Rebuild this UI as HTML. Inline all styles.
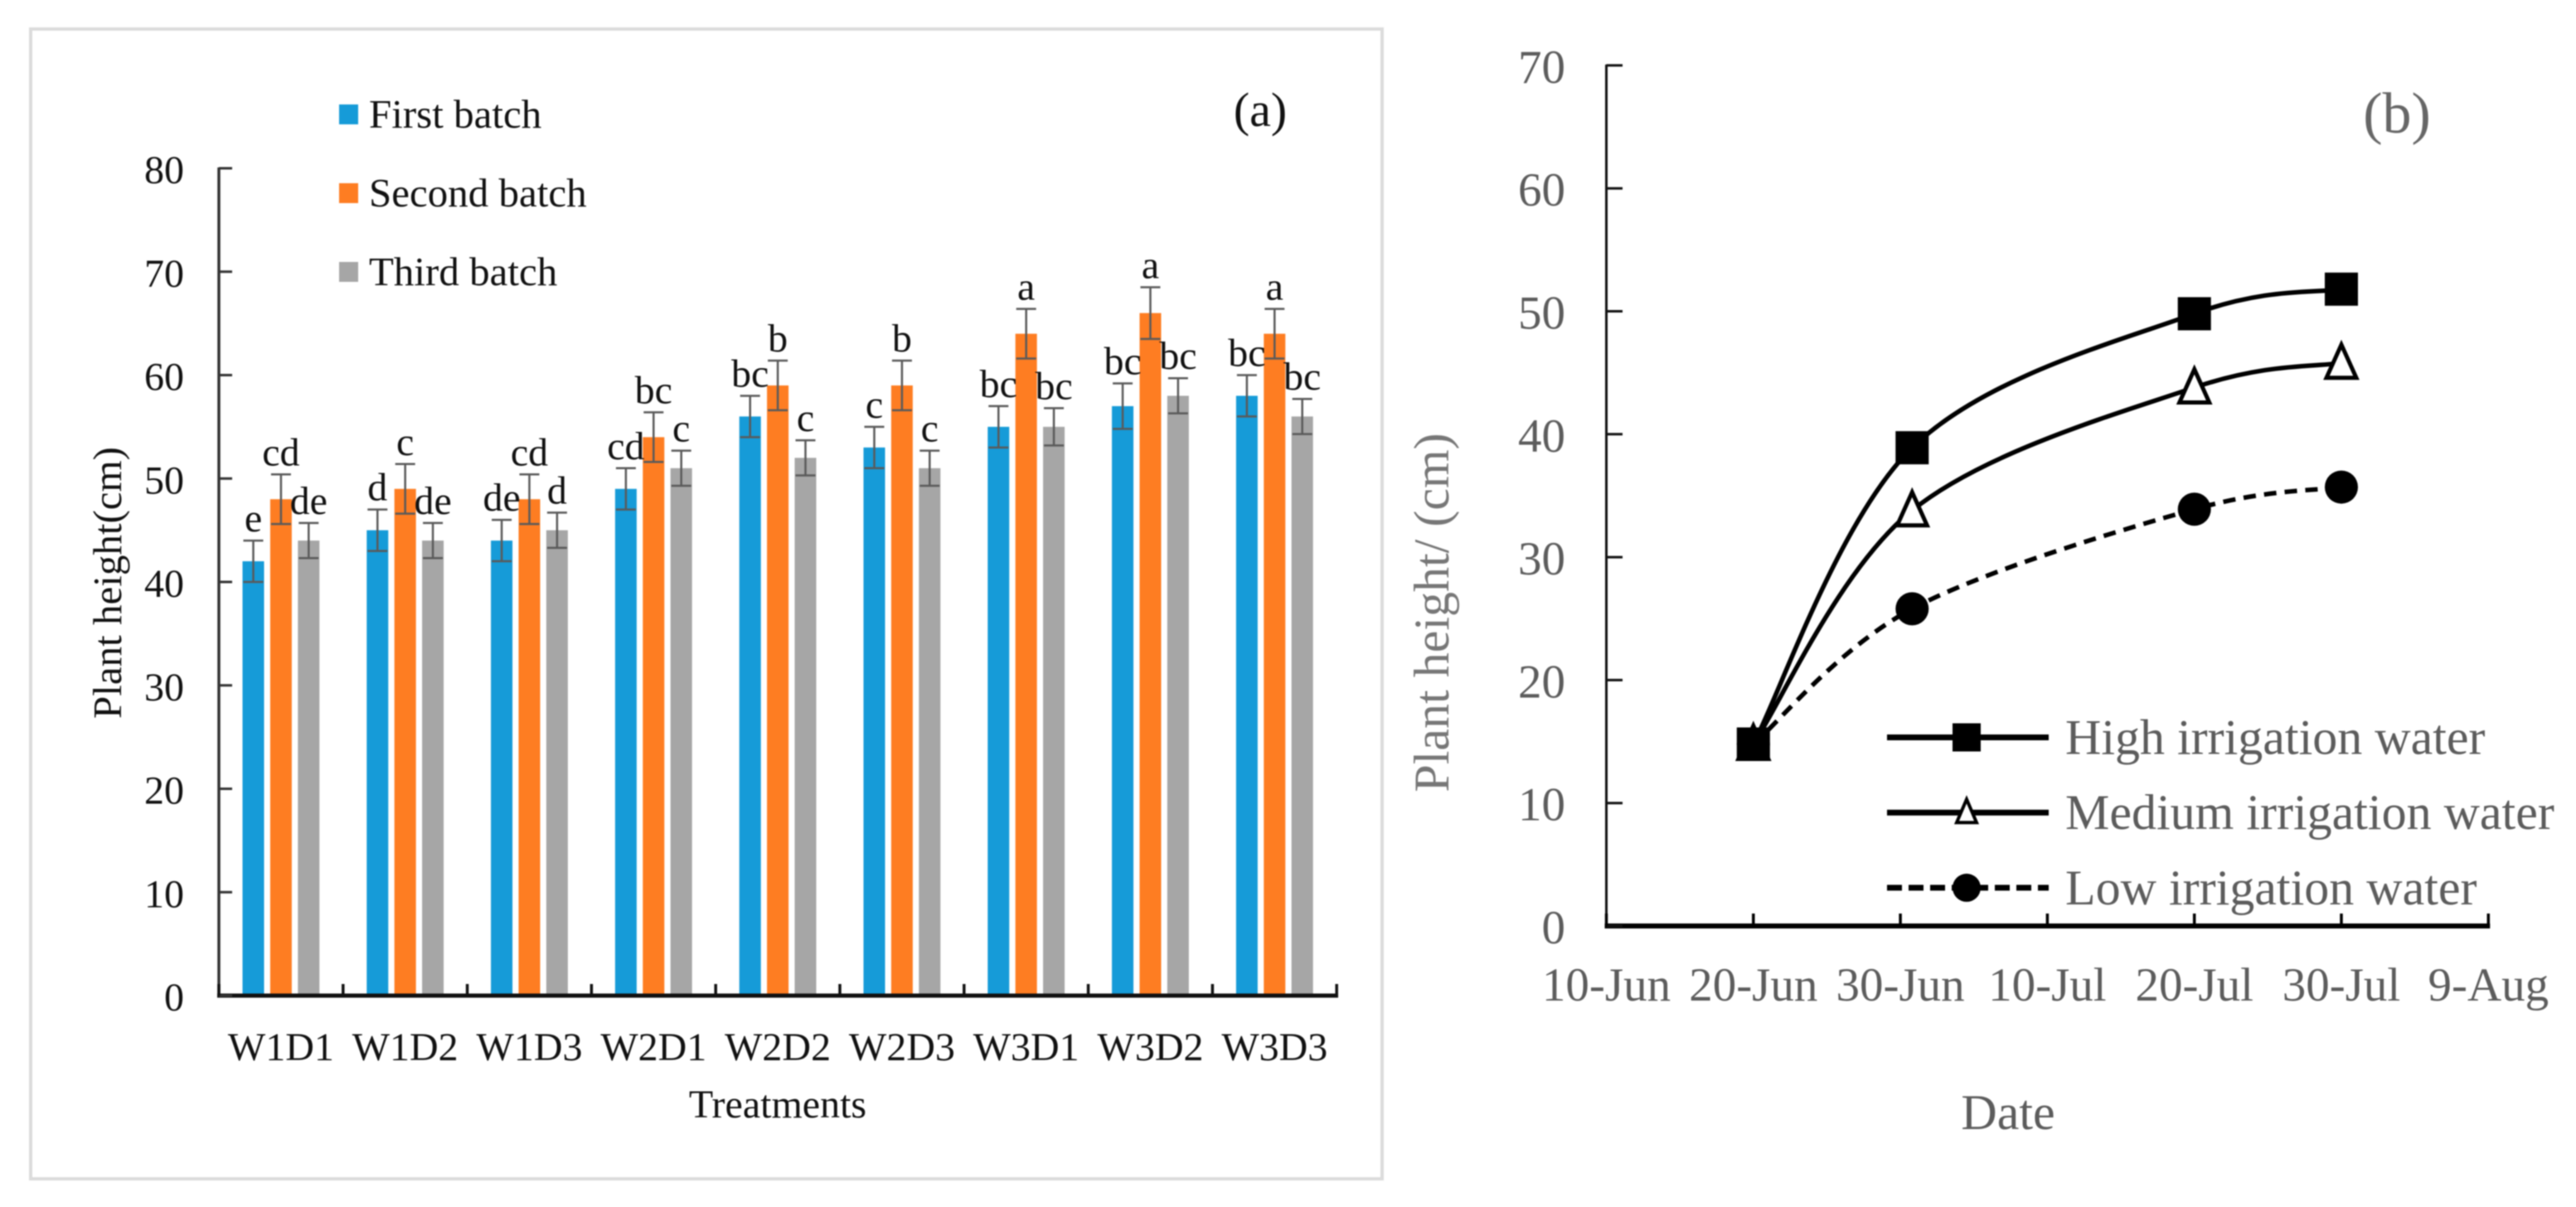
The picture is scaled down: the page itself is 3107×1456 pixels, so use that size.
<!DOCTYPE html>
<html lang="en">
<head>
<meta charset="utf-8">
<title>Plant height charts</title>
<style>
html,body{margin:0;padding:0;background:#fff;}
svg{display:block;filter:blur(0.8px);}
text{font-family:"Liberation Serif",serif;}
</style>
</head>
<body>
<svg id="root" xmlns="http://www.w3.org/2000/svg" width="3107" height="1456" viewBox="0 0 3107 1456">
  <rect x="0" y="0" width="3107" height="1456" fill="#fff"/>
  <rect x="37" y="35" width="1630" height="1387" fill="#fff" stroke="#dcdcdc" stroke-width="4"/>
  <g id="panelA"></g>
  <g id="panelB"></g>
</svg>
<script>
/* Panel (a) data */
const treatments = ["W1D1","W1D2","W1D3","W2D1","W2D2","W2D3","W3D1","W3D2","W3D3"];
const firstBatch = [42,45,44,49,56,53,55,57,58];
const secondBatch = [48,49,48,54,59,59,64,66,64];
const thirdBatch = [44,44,45,51,52,51,55,58,56];
const firstError = [2,2,2,2,2,2,2,2.2,2];
const secondError = [2.4,2.4,2.4,2.4,2.4,2.4,2.4,2.5,2.4];
const thirdError = [1.7,1.7,1.7,1.7,1.7,1.7,1.8,1.7,1.7];
const firstLetters = ["e","d","de","cd","bc","c","bc","bc","bc"];
const secondLetters = ["cd","c","cd","bc","b","b","a","a","a"];
const thirdLetters = ["de","de","d","c","c","c","bc","bc","bc"];
const batchNames = ["First batch","Second batch","Third batch"];
const yTicksA = [0,10,20,30,40,50,60,70,80];

/* Panel (b) data */
const dayLabels = ["10-Jun","20-Jun","30-Jun","10-Jul","20-Jul","30-Jul","9-Aug"];
const sampleDays = [10,20.8,40,50];
const highWater = [14.8,38.9,49.8,51.8];
const mediumWater = [14.8,33.8,43.8,45.8];
const lowWater = [14.8,25.8,33.9,35.7];
const waterNames = ["High irrigation water","Medium irrigation water","Low irrigation water"];
const yTicksB = [0,10,20,30,40,50,60,70];

const NS = "http://www.w3.org/2000/svg";
function mk(parent, tag, attrs, content){
  const e = document.createElementNS(NS, tag);
  for (const k in attrs) e.setAttribute(k, attrs[k]);
  if (content !== undefined) e.textContent = content;
  parent.appendChild(e);
  return e;
}

/* Axis functions */
const yA = v => 1201 - v * 12.475;
const groupA = i => 264 + 149.8 * (i + 0.5);
const yB = v => 1117 - v * 14.83;
const xB = d => 1937.5 + d * 17.73;

/* ---------- Panel (a) ---------- */
const A = document.getElementById("panelA");
const barColors = ["#169bd8","#fe7d22","#a6a6a6"];
const barValues = [firstBatch, secondBatch, thirdBatch];
const barErrors = [firstError, secondError, thirdError];
const barLetters = [firstLetters, secondLetters, thirdLetters];
const seriesSlugs = ["first-batch","second-batch","third-batch"];

treatments.forEach((t, i) => {
  barValues.forEach((vals, s) => {
    const cx = groupA(i) + (s - 1) * 33.4;
    const bar = mk(A, "rect", {x: cx - 13, y: yA(vals[i]), width: 26, height: yA(0) - yA(vals[i]), fill: barColors[s]});
    
    
  });
});
treatments.forEach((t, i) => {
  barValues.forEach((vals, s) => {
    const cx = groupA(i) + (s - 1) * 33.4;
    const hi = yA(vals[i] + barErrors[s][i]);
    const lo = yA(vals[i] - barErrors[s][i]);
    const err = mk(A, "path", {d: `M${cx-12} ${hi}H${cx+12}M${cx} ${hi}V${lo}M${cx-12} ${lo}H${cx+12}`, fill: "none", stroke: "#5a5a5a", "stroke-width": 2.5});
    
    
    const lab = mk(A, "text", {x: cx, y: hi - 11, "text-anchor": "middle", "font-size": 48, fill: "#111"}, barLetters[s][i]);
    
    
  });
});

const yAxisA = mk(A, "line", {x1: 264, y1: yA(80) - 1, x2: 264, y2: yA(0) + 2, stroke: "#333", "stroke-width": 3.5});


const xAxisA = mk(A, "line", {x1: 262, y1: yA(0), x2: 1614, y2: yA(0), stroke: "#111", "stroke-width": 5});



yTicksA.forEach(v => {
  const tk = mk(A, "line", {x1: 264, y1: yA(v), x2: 280, y2: yA(v), stroke: "#333", "stroke-width": 3});
  
  
  const lb = mk(A, "text", {x: 222, y: yA(v) + 18, "text-anchor": "end", "font-size": 48, fill: "#111"}, String(v));
  
  
});
for (let i = 0; i <= treatments.length; i++) {
  const tk = mk(A, "line", {x1: 264 + 149.8 * i, y1: yA(0) - 14, x2: 264 + 149.8 * i, y2: yA(0), stroke: "#111", "stroke-width": 3.5});
  
  
}
treatments.forEach((t, i) => {
  const lb = mk(A, "text", {x: groupA(i), y: 1279, "text-anchor": "middle", "font-size": 48, fill: "#111"}, t);
  
  
});

const xTitleA = mk(A, "text", {x: 938, y: 1348, "text-anchor": "middle", "font-size": 48, fill: "#111"}, "Treatments");


const yTitleA = mk(A, "text", {transform: "translate(146 703) rotate(-90)", "text-anchor": "middle", "font-size": 49, fill: "#111"}, "Plant height(cm)");


const panelLabelA = mk(A, "text", {x: 1520, y: 152, "text-anchor": "middle", "font-size": 58, fill: "#111"}, "(a)");



batchNames.forEach((n, s) => {
  const top = 126 + s * 95;
  const sw = mk(A, "rect", {x: 409, y: top, width: 23, height: 24, fill: barColors[s]});
  
  
  const lb = mk(A, "text", {x: 445, y: top + 28, "font-size": 49, fill: "#111"}, n);
  
  
});

/* ---------- Panel (b) ---------- */
const B = document.getElementById("panelB");
const greyText = "#5c5c5c";

function smoothPath(pts){
  let d = `M${pts[0][0]} ${pts[0][1]}`;
  for (let i = 0; i < pts.length - 1; i++) {
    const p0 = pts[Math.max(i - 1, 0)], p1 = pts[i], p2 = pts[i + 1], p3 = pts[Math.min(i + 2, pts.length - 1)];
    const c1 = [p1[0] + (p2[0] - p0[0]) / 6, p1[1] + (p2[1] - p0[1]) / 6];
    const c2 = [p2[0] - (p3[0] - p1[0]) / 6, p2[1] - (p3[1] - p1[1]) / 6];
    d += `C${c1[0]} ${c1[1]} ${c2[0]} ${c2[1]} ${p2[0]} ${p2[1]}`;
  }
  return d;
}
function marker(parent, kind, x, y, size, sw){
  const r = size / 2;
  if (kind === "square") return mk(parent, "rect", {x: x - r, y: y - r, width: size, height: size, fill: "#000"});
  if (kind === "circle") return mk(parent, "circle", {cx: x, cy: y, r: r, fill: "#000"});
  return mk(parent, "polygon", {points: `${x},${y - r - 2} ${x + r - 2},${y + r - 2} ${x - r + 2},${y + r - 2}`, fill: "#fff", stroke: "#000", "stroke-width": sw});
}

const lineSeries = [highWater, mediumWater, lowWater];
const lineKinds = ["square","triangle","circle"];
const lineDash = ["none","none","15 10"];
const legendDash = ["none","none","18 8"];
const lineSlugs = ["high-water","medium-water","low-water"];

lineSeries.forEach((vals, s) => {
  const pts = vals.map((v, i) => [xB(sampleDays[i]), yB(v)]);
  const ln = mk(B, "path", {d: smoothPath(pts), fill: "none", stroke: "#000", "stroke-width": 5.5, "stroke-dasharray": lineDash[s]});
  
  
});
[2, 1, 0].forEach(s => {
  lineSeries[s].forEach((v, i) => {
    const m = marker(B, lineKinds[s], xB(sampleDays[i]), yB(v), 40, 5);
    
    
  });
});

const yAxisB = mk(B, "line", {x1: 1937.5, y1: yB(70) - 1, x2: 1937.5, y2: yB(0), stroke: "#111", "stroke-width": 3});


const xAxisB = mk(B, "line", {x1: xB(0) - 2, y1: yB(0), x2: xB(60) + 2, y2: yB(0), stroke: "#000", "stroke-width": 6});



yTicksB.forEach(v => {
  const tk = mk(B, "line", {x1: 1937.5, y1: yB(v), x2: 1957, y2: yB(v), stroke: "#111", "stroke-width": 3});
  
  
  const lb = mk(B, "text", {x: 1888, y: yB(v) + 21, "text-anchor": "end", "font-size": 57, fill: greyText}, String(v));
  
  
});
dayLabels.forEach((d, i) => {
  const x = xB(i * 10);
  const tk = mk(B, "line", {x1: x, y1: yB(0) - 15, x2: x, y2: yB(0), stroke: "#000", "stroke-width": 3.5});
  
  
  const lb = mk(B, "text", {x: x, y: 1207, "text-anchor": "middle", "font-size": 57, fill: greyText}, d);
  
  
});

const xTitleB = mk(B, "text", {x: 2422, y: 1362, "text-anchor": "middle", "font-size": 60, fill: greyText}, "Date");


const yTitleB = mk(B, "text", {transform: "translate(1747 739) rotate(-90)", "text-anchor": "middle", "font-size": 60, fill: "#777"}, "Plant height/ (cm)");


const panelLabelB = mk(B, "text", {x: 2891, y: 160, "text-anchor": "middle", "font-size": 70, fill: "#666"}, "(b)");



waterNames.forEach((n, s) => {
  const y = 889.5 + s * 90.7;
  const ln = mk(B, "line", {x1: 2276, y1: y, x2: 2471, y2: y, stroke: "#000", "stroke-width": 7, "stroke-dasharray": legendDash[s]});
  
  
  const m = marker(B, lineKinds[s], 2372, y, s === 1 ? 28 : 34, 4);
  
  
  const lb = mk(B, "text", {x: 2491, y: y + 20, "font-size": 60, fill: greyText}, n);
  
  
});
</script>
</body>
</html>
